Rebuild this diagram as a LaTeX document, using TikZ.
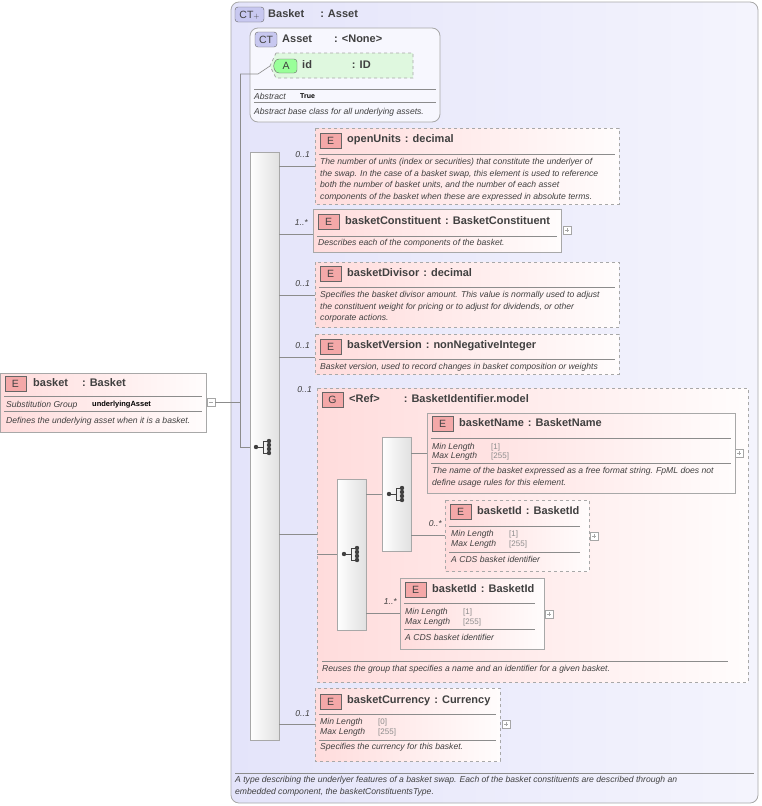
\documentclass[tikz,border=0pt]{standalone}
\usepackage{fontspec}
\setmainfont{Liberation Sans}
\usetikzlibrary{positioning}
\definecolor{ctfill}{HTML}{E4E4FA}
\definecolor{elfill}{HTML}{FFDCDC}
\definecolor{badgeE}{HTML}{F4A8A8}
\definecolor{badgeCT}{HTML}{C8C8F0}
\definecolor{grn}{HTML}{DFF8DF}
\definecolor{edge}{HTML}{A8A8A8}
\definecolor{txt}{HTML}{404040}
\tikzset{
  x=1pt, y=-1pt,
  box/.style={draw=edge, line width=0.8pt},
  opt/.style={box, dashed},
  elem/.style={left color=elfill, right color=white!92!elfill},
  seqbox/.style={draw=edge, left color=white, right color=black!12},
  title/.style={anchor=west, inner sep=0, font=\bfseries\fontsize{11}{12}\selectfont, text=txt},
  desc/.style={anchor=west, inner sep=0, font=\itshape\fontsize{8.6}{11.6}\selectfont, text=txt, align=left},
  facet/.style={anchor=west, inner sep=0, font=\fontsize{8}{9}\selectfont, text=black!45},
  card/.style={anchor=east, inner sep=0, font=\itshape\fontsize{8.6}{9}\selectfont, text=txt},
  wire/.style={draw=black!45, line width=0.6pt},
  sep/.style={draw=black!45, line width=0.6pt}
}
% badge at (x,y) with letter
\newcommand\badge[3]{%
  \draw[draw=black!60, fill=badgeE] (#1,#2-7) rectangle (#1+21,#2+8);
  \node[inner sep=0, font=\fontsize{10.5}{11}\selectfont, text=txt] at (#1+10.5,#2+1) {#3};}
\newcommand\plusbox[2]{%
  \draw[draw=black!35, fill=white] (#1,#2-4) rectangle (#1+8,#2+4);
  \draw[black!35] (#1+2,#2) -- (#1+6,#2) (#1+4,#2-2) -- (#1+4,#2+2);}
\newcommand\seqicon[2]{%
  \fill[black!75] (#1-8,#2) circle (2.2);
  \draw[black!75, line width=1pt] (#1-8,#2) -- (#1-1,#2) (#1-1,#2-6) -- (#1-1,#2+6)
    (#1-1,#2-6) -- (#1+4,#2-6) (#1-1,#2+6) -- (#1+4,#2+6);
  \foreach \d in {-6,-2,2,6} \fill[black!75] (#1+5,#2+\d) circle (2.2);}
\begin{document}
\begin{tikzpicture}
\useasboundingbox (0,0) rectangle (762,806);
% complex type Basket
\draw[draw=edge, left color=ctfill, right color=white!60!ctfill, rounded corners=8pt, line width=0.8pt] (231,2) rectangle (758,803);
\draw[draw=black!60, fill=badgeCT, rounded corners=3pt] (235,7) rectangle (264,22);
\node[inner sep=0, font=\fontsize{10.5}{11}\selectfont, text=txt] at (249.5,15) {CT\raisebox{0.5pt}{$\scriptstyle+$}};
\node[title] (basketT) at (268,14) {Basket\hspace{16pt}: Asset};
\draw[sep] (235,773) -- (754,773);
\node[desc] (basketD) at (235,786) {A type describing the underlyer features of a basket swap. Each of the basket constituents are described through an\\embedded component, the basketConstituentsType.};
% complex type Asset
\draw[draw=edge, fill=white!70!ctfill, rounded corners=8pt, line width=0.8pt] (250,28) rectangle (440,122);
\draw[draw=black!60, fill=badgeCT, rounded corners=3pt] (255,32) rectangle (277,47);
\node[inner sep=0, font=\fontsize{10.5}{11}\selectfont, text=txt] at (266,40) {CT};
\node[title] (assetT) at (282,39) {Asset\hspace{22pt}: <None>};
\draw[opt, fill=grn] (276,53) -- (413,53) -- (413,78) -- (276,78) -- (270,66) -- cycle;
\draw[draw=black!60, fill=green!40!white, rounded corners=3pt] (276,59) -- (297,59) -- (297,73) -- (276,73) -- (273,66) -- cycle;
\node[inner sep=0, font=\fontsize{10.5}{11}\selectfont, text=txt] at (286,66) {A};
\node[title] (idT) at (302,65) {id\hspace{40pt}: ID};
\draw[sep] (254,89) -- (436,89);
\node[desc] at (254,96) {Abstract};
\node[facet, text=black, font=\bfseries\fontsize{7}{8}\selectfont] at (300,96) {True};
\draw[sep] (254,102) -- (436,102);
\node[desc] at (254,112) {Abstract base class for all underlying assets.};
% element basket
\draw[box, elem] (0,373) rectangle (206,432);
\badge{5}{383}{E}
\node[title] (basketE) at (33,383) {basket\hspace{14pt}: Basket};
\draw[sep] (4,396) -- (202,396);
\node[desc] at (6,405) {Substitution Group};
\node[facet, text=black, font=\bfseries\fontsize{7.5}{8}\selectfont] at (92,405) {underlyingAsset};
\draw[sep] (4,411) -- (202,411);
\node[desc] at (6,421) {Defines the underlying asset when it is a basket.};
\draw[draw=black!35, fill=white] (207,398) rectangle (215,406);
\draw[black!35] (209,402) -- (213,402);
% trunk
\coordinate (root) at (215,402);
\coordinate (trunk) at (240,402);
\coordinate (toId) at (270,66);
\coordinate (toSeq) at (250,447);
\draw[wire] (root) -- (trunk) (240,74) -- (240,447);
\draw[wire] (240,74) -- (258,74) -- (toId);
\draw[wire] (240,447) -- (toSeq);
% main sequence
\draw[seqbox] (250,152) rectangle (279,740);
\seqicon{264}{447}
% openUnits
\draw[opt, elem] (315,128) rectangle (619,204);
\badge{320}{140}{E}
\node[title] at (347,140) {openUnits\hspace{4pt}: decimal};
\draw[sep] (319,154) -- (615,154);
\node[desc, anchor=north west] at (320,158) {The number of units (index or securities) that constitute the underlyer of\\the swap. In the case of a basket swap, this element is used to reference\\both the number of basket units, and the number of each asset\\components of the basket when these are expressed in absolute terms.};
\node[card] at (310,155) {0..1};
\draw[wire] (279,166) -- (315,166);
% basketConstituent
\draw[box, elem] (313,209) rectangle (561,252);
\badge{318}{221}{E}
\node[title] at (345,221) {basketConstituent\hspace{4pt}: BasketConstituent};
\draw[sep] (317,236) -- (557,236);
\node[desc] at (318,243) {Describes each of the components of the basket.};
\node[card] at (308,223) {1..*};
\draw[wire] (279,234) -- (313,234);
\plusbox{563}{230}
% basketDivisor
\draw[opt, elem] (315,262) rectangle (619,327);
\badge{320}{273}{E}
\node[title] at (347,273) {basketDivisor\hspace{4pt}: decimal};
\draw[sep] (319,287) -- (615,287);
\node[desc, anchor=north west] at (320,291) {Specifies the basket divisor amount. This value is normally used to adjust\\the constituent weight for pricing or to adjust for dividends, or other\\corporate actions.};
\node[card] at (310,284) {0..1};
\draw[wire] (279,295) -- (315,295);
% basketVersion
\draw[opt, elem] (315,334) rectangle (619,374);
\badge{320}{346}{E}
\node[title] at (347,346) {basketVersion\hspace{4pt}: nonNegativeInteger};
\draw[sep] (319,359) -- (615,359);
\node[desc] at (320,367) {Basket version, used to record changes in basket composition or weights};
\node[card] at (310,346) {0..1};
\draw[wire] (279,357) -- (315,357);
% group BasketIdentifier.model
\draw[opt, elem] (317,388) rectangle (748,682);
\badge{322}{399}{G}
\node[title] at (349,399) {<Ref>\hspace{24pt}: BasketIdentifier.model};
\node[card] at (312,390) {0..1};
\draw[wire] (279,534) -- (317,534);
\draw[wire] (317,554) -- (337,554);
\draw[seqbox] (337,479) rectangle (366,630);
\seqicon{352}{554}
\draw[wire] (366,494) -- (382,494);
\draw[seqbox] (382,437) rectangle (411,551);
\seqicon{397}{494}
% basketName
\draw[box, elem] (427,413) rectangle (735,493);
\badge{432}{423}{E}
\node[title] at (459,423) {basketName\hspace{4pt}: BasketName};
\draw[sep] (431,438) -- (731,438);
\node[desc] at (432,447) {Min Length}; \node[facet] at (491,447) {[1]};
\node[desc] at (432,456) {Max Length}; \node[facet] at (491,456) {[255]};
\draw[sep] (431,463) -- (731,463);
\node[desc, anchor=north west] at (432,467) {The name of the basket expressed as a free format string. FpML does not\\define usage rules for this element.};
\draw[wire] (411,453) -- (427,453);
\plusbox{735}{453}
% basketId optional
\draw[opt, elem] (445,500) rectangle (589,571);
\badge{450}{511}{E}
\node[title] at (477,511) {basketId\hspace{4pt}: BasketId};
\draw[sep] (449,526) -- (580,526);
\node[desc] at (451,534) {Min Length}; \node[facet] at (509,534) {[1]};
\node[desc] at (451,544) {Max Length}; \node[facet] at (509,544) {[255]};
\draw[sep] (449,552) -- (580,552);
\node[desc] at (451,559) {A CDS basket identifier};
\node[card] at (442,524) {0..*};
\draw[wire] (411,535) -- (445,535);
\plusbox{590}{536}
% basketId required
\draw[box, elem] (400,578) rectangle (544,649);
\badge{405}{589}{E}
\node[title] at (432,589) {basketId\hspace{4pt}: BasketId};
\draw[sep] (404,603) -- (535,603);
\node[desc] at (405,612) {Min Length}; \node[facet] at (463,612) {[1]};
\node[desc] at (405,622) {Max Length}; \node[facet] at (463,622) {[255]};
\draw[sep] (404,629) -- (535,629);
\node[desc] at (405,637) {A CDS basket identifier};
\node[card] at (397,602) {1..*};
\draw[wire] (366,613) -- (400,613);
\plusbox{545}{614}
\draw[sep] (322,661) -- (728,661);
\node[desc] at (322,669) {Reuses the group that specifies a name and an identifier for a given basket.};
% basketCurrency
\draw[opt, elem] (315,688) rectangle (500,761);
\badge{320}{701}{E}
\node[title] at (347,701) {basketCurrency\hspace{4pt}: Currency};
\draw[sep] (319,714) -- (496,714);
\node[desc] at (320,722) {Min Length}; \node[facet] at (378,722) {[0]};
\node[desc] at (320,732) {Max Length}; \node[facet] at (378,732) {[255]};
\draw[sep] (319,740) -- (496,740);
\node[desc] at (320,747) {Specifies the currency for this basket.};
\node[card] at (310,714) {0..1};
\draw[wire] (279,724) -- (315,724);
\plusbox{502}{724}
\end{tikzpicture}
\end{document}
